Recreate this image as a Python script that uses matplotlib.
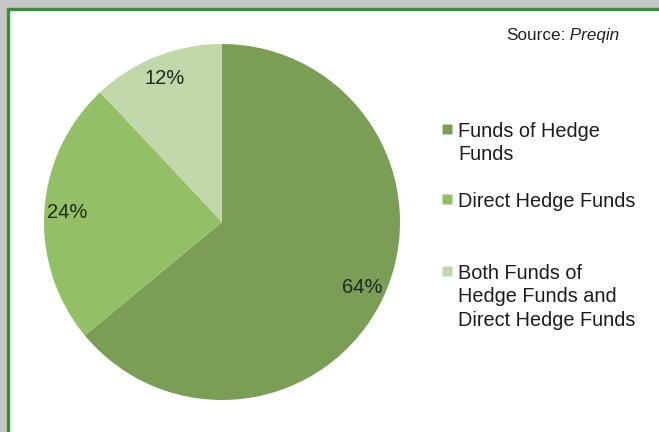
import matplotlib.pyplot as plt
from matplotlib.patches import Rectangle

plt.rcParams['font.family'] = ['Liberation Sans', 'DejaVu Sans']

# data
categories = ["Funds of Hedge\nFunds", "Direct Hedge Funds",
              "Both Funds of\nHedge Funds and\nDirect Hedge Funds"]
shares = [64, 24, 12]
colors = ["#7b9e57", "#93c066", "#c2d8aa"]

W, H = 659, 432
fig = plt.figure(figsize=(W / 100, H / 100), dpi=100, facecolor="#c6c6c6")

# background layer in pixel coords
bg = fig.add_axes([0, 0, 1, 1])
bg.set_xlim(0, W)
bg.set_ylim(H, 0)
bg.axis("off")
bg.add_patch(Rectangle((8, 9), W, H, facecolor="white", edgecolor="none"))
bg.plot([8, 8], [8, H], color="#3a8a3f", lw=2.4, solid_capstyle="butt")
bg.plot([7, W], [9, 9], color="#3a8a3f", lw=2.4, solid_capstyle="butt")

src = bg.text(506, 40, "Source:", ha="left", va="baseline", fontsize=12.3,
              color="#222222")
bg.annotate(" Preqin", xy=(1, 0), xycoords=src, va="bottom", ha="left",
            fontsize=12.3, style="italic", color="#222222")

# legend, drawn by hand so the marker sits on the first line
baselines = [137, 207, 279]
for lab, col, yb in zip(categories, colors, baselines):
    bg.plot(447, yb - 8, marker="s", ms=6.5, color=col, mec="none")
    for k, line in enumerate(lab.split("\n")):
        bg.text(458, yb + 23.5 * k, line, ha="left", va="baseline",
                fontsize=14.3, color="#1c1c1c")

# pie
cx, cy, r = 222, 222, 178
ax = fig.add_axes([(cx - r) / W, (H - cy - r) / H, 2 * r / W, 2 * r / H])
wedges, texts, autotexts = ax.pie(
    shares, colors=colors, startangle=90, counterclock=False,
    autopct="%d%%", pctdistance=0.87,
    wedgeprops=dict(linewidth=0),
    textprops=dict(fontsize=14.5, color="#1e2a1e"))
ax.set_xlim(-1, 1)
ax.set_ylim(-1, 1)
ax.set_aspect("auto")
ax.axis("off")

fig.savefig("out.png", dpi=100, facecolor=fig.get_facecolor())
